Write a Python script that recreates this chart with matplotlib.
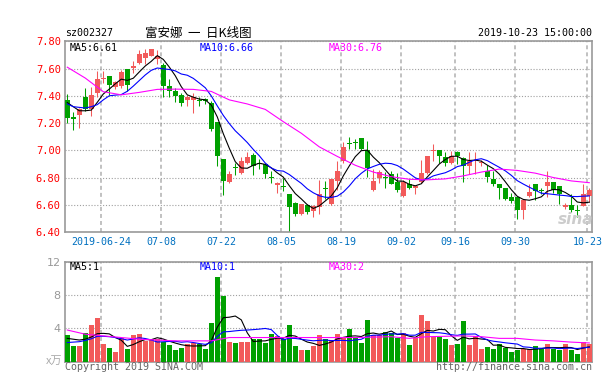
import matplotlib
matplotlib.use('Agg')
import matplotlib.pyplot as plt

W, H = 609, 376
RED = '#f25a5a'
GREEN = '#00a000'
MONO = 'DejaVu Sans Mono'
CJK = ['Noto Sans CJK SC', 'DejaVu Sans']

plt.rcParams['font.family'] = MONO

# one candle per trading day, 2019-06-14 .. 2019-10-23 (index 0..87)
tick_days = [6, 16, 26, 36, 46, 56, 65, 75, 87]
tick_labels = ['2019-06-24', '07-08', '07-22', '08-05', '08-19',
               '09-02', '09-16', '09-30', '10-23']
price_ticks = [6.40, 6.60, 6.80, 7.00, 7.20, 7.40, 7.60, 7.80]
vol_ticks = [4, 8, 12]

opens = [7.368, 7.241, 7.259, 7.388, 7.302, 7.417, 7.522, 7.546, 7.466, 7.473,
         7.600, 7.605, 7.640, 7.678, 7.695, 7.671, 7.627, 7.473, 7.437, 7.407,
         7.368, 7.368, 7.371, 7.376, 7.344, 7.205, 6.937, 6.766, 6.873, 6.830,
         6.905, 6.962, 6.902, 6.897, 6.802, 6.746, 6.734, 6.679, 6.614, 6.534,
         6.600, 6.551, 6.583, 6.720, 6.607, 6.778, 6.920, 7.050, 7.062, 7.090,
         7.002, 6.705, 6.800, 6.802, 6.825, 6.770, 6.663, 6.754, 6.724, 6.766,
         6.832, 6.998, 7.005, 6.949, 6.905, 6.985, 6.944, 6.888, 6.918, 6.907,
         6.851, 6.790, 6.754, 6.724, 6.656, 6.656, 6.558, 6.661, 6.754, 6.700,
         6.737, 6.766, 6.737, 6.583, 6.595, 6.556, 6.588, 6.661]
highs = [7.412, 7.278, 7.307, 7.456, 7.461, 7.583, 7.583, 7.546, 7.510, 7.588,
         7.600, 7.655, 7.735, 7.744, 7.747, 7.734, 7.640, 7.522, 7.456, 7.417,
         7.407, 7.417, 7.393, 7.383, 7.363, 7.205, 6.937, 6.845, 6.905, 6.948,
         6.986, 6.983, 6.937, 6.910, 6.849, 6.766, 6.800, 6.679, 6.617, 6.607,
         6.605, 6.595, 6.780, 6.778, 6.790, 6.924, 7.059, 7.095, 7.083, 7.090,
         7.071, 6.863, 6.856, 6.840, 6.851, 6.832, 6.785, 6.790, 6.741, 6.929,
         6.961, 7.046, 7.005, 6.985, 6.998, 6.998, 6.949, 6.985, 6.985, 6.932,
         6.890, 6.851, 6.754, 6.724, 6.683, 6.656, 6.637, 6.754, 6.754, 6.720,
         6.846, 6.766, 6.737, 6.610, 6.680, 6.595, 6.754, 6.724]
lows = [7.198, 7.149, 7.163, 7.285, 7.254, 7.388, 7.493, 7.407, 7.449, 7.456,
        7.437, 7.570, 7.632, 7.630, 7.690, 7.632, 7.388, 7.393, 7.351, 7.327,
        7.327, 7.271, 7.327, 7.339, 7.139, 6.888, 6.668, 6.760, 6.818, 6.824,
        6.898, 6.820, 6.863, 6.800, 6.763, 6.685, 6.702, 6.398, 6.520, 6.522,
        6.534, 6.510, 6.530, 6.644, 6.600, 6.705, 6.905, 7.010, 7.010, 7.000,
        6.802, 6.698, 6.759, 6.720, 6.750, 6.690, 6.660, 6.717, 6.676, 6.760,
        6.827, 6.920, 6.905, 6.888, 6.900, 6.900, 6.770, 6.827, 6.827, 6.883,
        6.766, 6.737, 6.644, 6.632, 6.612, 6.498, 6.498, 6.656, 6.632, 6.680,
        6.656, 6.683, 6.605, 6.570, 6.546, 6.510, 6.588, 6.619]
closes = [7.237, 7.229, 7.302, 7.302, 7.407, 7.522, 7.534, 7.478, 7.498, 7.578,
          7.478, 7.615, 7.708, 7.715, 7.747, 7.690, 7.473, 7.432, 7.395, 7.346,
          7.388, 7.388, 7.363, 7.363, 7.156, 6.956, 6.773, 6.827, 6.870, 6.922,
          6.947, 6.886, 6.898, 6.825, 6.798, 6.763, 6.729, 6.585, 6.533, 6.606,
          6.548, 6.593, 6.680, 6.714, 6.788, 6.851, 7.027, 7.044, 7.056, 7.007,
          6.870, 6.775, 6.838, 6.797, 6.755, 6.707, 6.770, 6.720, 6.741, 6.832,
          6.956, 7.004, 6.961, 6.905, 6.956, 6.956, 6.883, 6.924, 6.922, 6.917,
          6.807, 6.754, 6.724, 6.644, 6.627, 6.563, 6.637, 6.693, 6.700, 6.698,
          6.766, 6.705, 6.680, 6.600, 6.563, 6.553, 6.676, 6.705]

# volume, x10k lots
volumes = [3.2, 1.9, 1.9, 3.4, 4.4, 5.2, 2.1, 1.6, 1.2, 2.8,
           1.5, 3.2, 3.3, 2.5, 2.7, 2.7, 2.4, 2.0, 1.4, 1.7,
           2.1, 2.2, 2.1, 1.5, 4.7, 10.2, 7.9, 2.4, 2.2, 2.4,
           2.4, 2.7, 2.7, 2.3, 3.3, 3.1, 2.7, 4.4, 1.9, 1.4,
           1.4, 1.9, 3.2, 2.7, 2.6, 3.3, 2.8, 3.9, 2.9, 2.2,
           5.0, 3.2, 3.2, 3.6, 3.4, 2.9, 3.4, 2.0, 2.9, 5.6,
           4.9, 3.0, 3.0, 2.7, 2.0, 2.1, 4.9, 2.0, 3.1, 1.5,
           1.8, 1.5, 2.1, 1.7, 1.2, 1.4, 1.5, 1.5, 1.9, 1.5,
           2.1, 1.5, 1.4, 2.1, 1.4, 0.9, 2.4, 2.1]

# moving-average lines
ma5 = [7.350, 7.320, 7.290, 7.290, 7.295, 7.352, 7.413, 7.449, 7.488, 7.522,
       7.513, 7.529, 7.575, 7.619, 7.653, 7.695, 7.667, 7.611, 7.547, 7.467,
       7.407, 7.390, 7.376, 7.370, 7.332, 7.245, 7.122, 7.015, 6.916, 6.870,
       6.868, 6.890, 6.905, 6.896, 6.871, 6.834, 6.803, 6.740, 6.682, 6.643,
       6.600, 6.573, 6.592, 6.628, 6.665, 6.725, 6.812, 6.885, 6.953, 6.997,
       7.001, 6.950, 6.909, 6.857, 6.807, 6.774, 6.773, 6.750, 6.739, 6.754,
       6.804, 6.851, 6.899, 6.932, 6.956, 6.956, 6.932, 6.925, 6.928, 6.920,
       6.891, 6.865, 6.825, 6.769, 6.711, 6.662, 6.639, 6.633, 6.644, 6.658,
       6.699, 6.712, 6.710, 6.690, 6.663, 6.620, 6.614, 6.619]
ma10 = [7.340, 7.320, 7.315, 7.310, 7.320, 7.335, 7.370, 7.400, 7.405, 7.409,
        7.433, 7.471, 7.512, 7.553, 7.587, 7.604, 7.598, 7.593, 7.583, 7.560,
        7.551, 7.528, 7.494, 7.459, 7.399, 7.326, 7.256, 7.196, 7.143, 7.101,
        7.057, 7.006, 6.960, 6.906, 6.870, 6.851, 6.847, 6.822, 6.789, 6.757,
        6.717, 6.688, 6.666, 6.655, 6.654, 6.663, 6.693, 6.738, 6.791, 6.831,
        6.863, 6.881, 6.897, 6.905, 6.902, 6.888, 6.862, 6.830, 6.798, 6.781,
        6.789, 6.812, 6.824, 6.835, 6.855, 6.880, 6.891, 6.912, 6.930, 6.938,
        6.924, 6.899, 6.875, 6.849, 6.816, 6.777, 6.752, 6.729, 6.707, 6.685,
        6.681, 6.676, 6.671, 6.667, 6.661, 6.660, 6.663, 6.665]
ma30_days = list(range(0, 88, 3))
ma30 = [7.610, 7.530, 7.430, 7.407, 7.425, 7.447, 7.449, 7.447, 7.432, 7.370,
        7.340, 7.300, 7.210, 7.125, 7.025, 6.955, 6.890, 6.840, 6.806, 6.787,
        6.783, 6.790, 6.812, 6.840, 6.862, 6.852, 6.832, 6.800, 6.775, 6.762]

vol_ma5 = [2.80, 2.70, 2.60, 2.70, 2.96, 3.36, 3.40, 3.34, 2.90, 2.58,
           1.84, 2.06, 2.40, 2.66, 2.64, 2.88, 2.72, 2.46, 2.24, 2.04,
           1.92, 1.88, 1.90, 1.92, 2.52, 4.14, 5.28, 5.34, 5.48, 5.02,
           3.46, 2.42, 2.48, 2.50, 2.68, 2.82, 2.82, 3.16, 3.08, 2.70,
           2.36, 2.20, 1.96, 2.12, 2.36, 2.74, 2.92, 3.06, 3.10, 3.02,
           3.36, 3.44, 3.30, 3.44, 3.68, 3.26, 3.30, 3.06, 2.92, 3.36,
           3.76, 3.68, 3.88, 3.84, 3.12, 2.56, 2.94, 2.74, 2.82, 2.72,
           2.66, 1.98, 2.00, 1.72, 1.66, 1.58, 1.58, 1.46, 1.50, 1.56,
           1.70, 1.70, 1.68, 1.72, 1.70, 1.46, 1.64, 1.78]
vol_ma10 = [2.30, 2.35, 2.40, 2.55, 2.75, 3.05, 3.05, 3.00, 2.90, 2.77,
            2.60, 2.73, 2.87, 2.78, 2.61, 2.36, 2.39, 2.43, 2.45, 2.34,
            2.40, 2.30, 2.18, 2.08, 2.28, 3.03, 3.58, 3.62, 3.70, 3.77,
            3.80, 3.85, 3.91, 3.99, 3.85, 3.14, 2.62, 2.82, 2.79, 2.69,
            2.59, 2.51, 2.56, 2.60, 2.53, 2.55, 2.56, 2.51, 2.61, 2.69,
            3.05, 3.18, 3.18, 3.27, 3.35, 3.31, 3.37, 3.18, 3.18, 3.52,
            3.51, 3.49, 3.47, 3.38, 3.24, 3.16, 3.31, 3.31, 3.33, 2.92,
            2.61, 2.46, 2.37, 2.27, 2.19, 2.12, 1.78, 1.73, 1.61, 1.61,
            1.64, 1.64, 1.57, 1.61, 1.63, 1.58, 1.67, 1.73]
vol_ma30 = [3.80, 3.30, 3.10, 2.90, 2.70, 2.60, 2.50, 2.50, 2.50, 2.90,
            2.90, 2.90, 2.90, 2.90, 2.90, 2.90, 2.90, 2.95, 3.00, 2.80,
            3.00, 3.05, 3.10, 3.00, 2.80, 2.80, 2.60, 2.50, 2.35, 2.25]


def box(left, top, right, bottom):
    # pixel box -> figure fraction rect
    return [left / W, 1 - bottom / H, (right - left) / W, (bottom - top) / H]


def ftext(px, py, s, **kw):
    fig.text(px / W, 1 - py / H, s, va='center', **kw)


fig = plt.figure(figsize=(W / 100, H / 100), dpi=100)
fig.patch.set_facecolor('white')
ax = fig.add_axes(box(65, 41.3, 592, 232))
axv = fig.add_axes(box(65, 261.7, 592, 361.7))

x = list(range(len(closes)))
colors = [RED if c >= o else GREEN for o, c in zip(opens, closes)]
bottoms = [min(o, c) for o, c in zip(opens, closes)]
heights = [max(abs(c - o), 0.007) for o, c in zip(opens, closes)]

ax.vlines(x, lows, highs, colors=colors, lw=0.75, zorder=2)
ax.bar(x, heights, bottom=bottoms, width=0.8, color=colors, lw=0, zorder=3)
ax.plot(x, ma5, color='black', lw=0.8, zorder=4)
ax.plot(x, ma10, color='blue', lw=0.8, zorder=4)
ax.plot(ma30_days, ma30, color='magenta', lw=0.8, zorder=4)

axv.bar(x, volumes, width=0.8, color=colors, lw=0, zorder=3)
axv.plot(x, vol_ma5, color='black', lw=0.8, zorder=4)
axv.plot(x, vol_ma10, color='blue', lw=0.8, zorder=4)
axv.plot(ma30_days, vol_ma30, color='magenta', lw=0.8, zorder=4)

grid_x = [d - 0.33 for d in tick_days]
for a in (ax, axv):
    a.set_xlim(-0.38, 87.45)
    a.set_xticks(grid_x)
    a.grid(True, axis='x', color='#b0b0b0', lw=1.1, ls=(0, (2.6, 2.0)))
    a.grid(True, axis='y', color='#a0a0a0', lw=0.8, ls=(0, (1, 1.6)))
    a.set_axisbelow(True)
    a.tick_params(length=0)
    for s in a.spines.values():
        s.set_color('#999999')
        s.set_linewidth(1.2)

ax.set_ylim(6.40, 7.80)
ax.set_yticks(price_ticks)
ax.set_yticklabels(['%.2f' % t for t in price_ticks])
ax.tick_params(axis='y', colors='red', labelsize=7.5, pad=3)
ax.set_xticklabels(tick_labels)
ax.tick_params(axis='x', colors='#0070c0', labelsize=7.2, pad=3.5)

axv.set_ylim(0, 12)
axv.set_yticks(vol_ticks)
axv.set_yticklabels([str(t) for t in vol_ticks])
axv.tick_params(axis='y', colors='#999999', labelsize=8, pad=3)
for lbl in axv.get_yticklabels():
    lbl.set_family('DejaVu Sans')
axv.set_xticklabels([])

# header
ftext(65, 33, 'sz002327', color='black', size=7.2)
ftext(145, 33, '富安娜  一  日K线图', color='black', size=9, family=CJK)
ftext(592, 33, '2019-10-23 15:00:00', color='black', size=7.2, ha='right')

# legends
ftext(70, 47.7, 'MA5:6.61', color='black', size=7.2)
ftext(200, 47.7, 'MA10:6.66', color='blue', size=7.2)
ftext(329, 47.7, 'MA30:6.76', color='magenta', size=7.2)
ftext(70, 266.7, 'MA5:1', color='black', size=7.2)
ftext(200, 266.7, 'MA10:1', color='blue', size=7.2)
ftext(329, 266.7, 'MA30:2', color='magenta', size=7.2)

ftext(46, 361, 'x万', color='#aaaaaa', size=8, family=CJK)
ftext(576, 219, 'sina', color='#cccccc', size=11, style='italic',
      weight='bold', family='DejaVu Sans', ha='center')

# footer
ftext(65, 367, 'Copyright 2019 SINA.COM', color='#666666', size=7.2)
ftext(592, 367, 'http://finance.sina.com.cn', color='#666666', size=7.2, ha='right')

fig.savefig('out.png', dpi=100)
